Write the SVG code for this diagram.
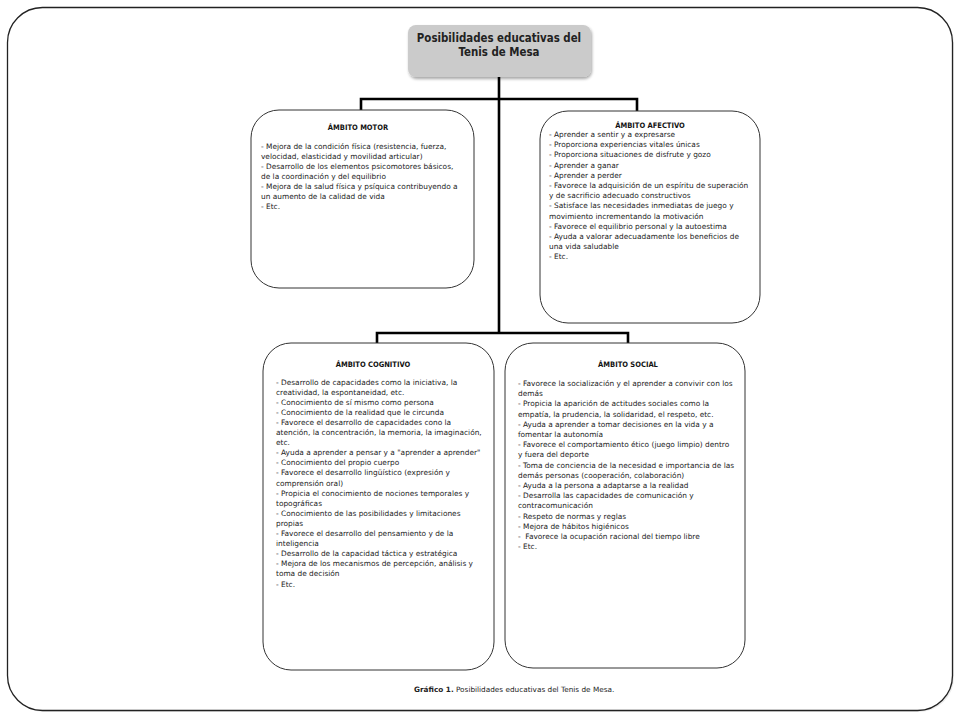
<svg xmlns="http://www.w3.org/2000/svg" width="960" height="720" viewBox="0 0 960 720">
<defs>
<filter id="sh" x="-10%" y="-10%" width="130%" height="140%">
<feGaussianBlur in="SourceAlpha" stdDeviation="1.5"/>
<feOffset dx="1" dy="2" result="b"/>
<feComponentTransfer><feFuncA type="linear" slope="0.35"/></feComponentTransfer>
<feMerge><feMergeNode/><feMergeNode in="SourceGraphic"/></feMerge>
</filter>
</defs>
<style>
.frame{fill:#ffffff;stroke:#222;stroke-width:1.3}
.box{fill:#ffffff;stroke:#333;stroke-width:1}
.title{fill:#cbcbcb;stroke:none}
.tt{font-family:"DejaVu Sans Condensed","DejaVu Sans",sans-serif;font-weight:bold;font-size:11.4px;fill:#222;text-anchor:middle}
.hd{font-family:"DejaVu Sans Condensed","DejaVu Sans",sans-serif;font-weight:bold;font-size:7.5px;fill:#111;text-anchor:middle}
.tx{font-family:"DejaVu Sans",sans-serif;font-size:7.4px;fill:#222;white-space:pre}
.cap{font-family:"DejaVu Sans",sans-serif;font-size:7.3px;fill:#222}
.con{fill:none;stroke:#000;stroke-width:2.6}
</style>
<rect x="9" y="9" width="945" height="703" rx="35" fill="#d8d8d8" opacity="0.5"/>
<rect class="frame" x="7.5" y="7.5" width="945" height="703" rx="35"/>

<g id="connectors">
<line class="con" x1="499" y1="77" x2="499" y2="334"/>
<polyline class="con" points="361,110 361,99 637,99 637,111"/>
<polyline class="con" points="377,343 377,333 628,333 628,343"/>
</g>

<g id="title">
<rect class="title" x="408" y="25" width="183" height="52" rx="8" filter="url(#sh)"/>
<text class="tt" x="499" y="42">Posibilidades educativas del</text>
<text class="tt" x="499" y="55.5">Tenis de Mesa</text>
</g>

<g id="motor">
<rect class="box" x="251" y="110" width="223" height="178" rx="28"/>
<text class="hd" x="358" y="129.5">ÁMBITO MOTOR</text>
<text class="tx" x="261" y="148.5">
<tspan x="261">- Mejora de la condición física (resistencia, fuerza,</tspan>
<tspan x="261" dy="10">velocidad, elasticidad y movilidad articular)</tspan>
<tspan x="261" dy="10">- Desarrollo de los elementos psicomotores básicos,</tspan>
<tspan x="261" dy="10">de la coordinación y del equilibrio</tspan>
<tspan x="261" dy="10">- Mejora de la salud física y psíquica contribuyendo a</tspan>
<tspan x="261" dy="10">un aumento de la calidad de vida</tspan>
<tspan x="261" dy="10">- Etc.</tspan>
</text>
</g>

<g id="afectivo">
<rect class="box" x="540" y="111" width="220" height="212" rx="28"/>
<text class="hd" x="650" y="128">ÁMBITO AFECTIVO</text>
<text class="tx" x="549" y="137">
<tspan x="549">- Aprender a sentir y a expresarse</tspan>
<tspan x="549" dy="10.2">- Proporciona experiencias vitales únicas</tspan>
<tspan x="549" dy="10.2">- Proporciona situaciones de disfrute y gozo</tspan>
<tspan x="549" dy="10.2">- Aprender a ganar</tspan>
<tspan x="549" dy="10.2">- Aprender a perder</tspan>
<tspan x="549" dy="10.2">- Favorece la adquisición de un espíritu de superación</tspan>
<tspan x="549" dy="10.2">y de sacrificio adecuado constructivos</tspan>
<tspan x="549" dy="10.2">- Satisface las necesidades inmediatas de juego y</tspan>
<tspan x="549" dy="10.2">movimiento incrementando la motivación</tspan>
<tspan x="549" dy="10.2">- Favorece el equilibrio personal y la autoestima</tspan>
<tspan x="549" dy="10.2">- Ayuda a valorar adecuadamente los beneficios de</tspan>
<tspan x="549" dy="10.2">una vida saludable</tspan>
<tspan x="549" dy="10.2">- Etc.</tspan>
</text>
</g>

<g id="cognitivo">
<rect class="box" x="263" y="343" width="231" height="327" rx="28"/>
<text class="hd" x="373" y="366.5">ÁMBITO COGNITIVO</text>
<text class="tx" x="276" y="384.5">
<tspan x="276">- Desarrollo de capacidades como la iniciativa, la</tspan>
<tspan x="276" dy="10.1">creatividad, la espontaneidad, etc.</tspan>
<tspan x="276" dy="10.1">- Conocimiento de sí mismo como persona</tspan>
<tspan x="276" dy="10.1">- Conocimiento de la realidad que le circunda</tspan>
<tspan x="276" dy="10.1">- Favorece el desarrollo de capacidades cono la</tspan>
<tspan x="276" dy="10.1">atención, la concentración, la memoria, la imaginación,</tspan>
<tspan x="276" dy="10.1">etc.</tspan>
<tspan x="276" dy="10.1">- Ayuda a aprender a pensar y a "aprender a aprender"</tspan>
<tspan x="276" dy="10.1">- Conocimiento del propio cuerpo</tspan>
<tspan x="276" dy="10.1">- Favorece el desarrollo lingüístico (expresión y</tspan>
<tspan x="276" dy="10.1">comprensión oral)</tspan>
<tspan x="276" dy="10.1">- Propicia el conocimiento de nociones temporales y</tspan>
<tspan x="276" dy="10.1">topográficas</tspan>
<tspan x="276" dy="10.1">- Conocimiento de las posibilidades y limitaciones</tspan>
<tspan x="276" dy="10.1">propias</tspan>
<tspan x="276" dy="10.1">- Favorece el desarrollo del pensamiento y de la</tspan>
<tspan x="276" dy="10.1">inteligencia</tspan>
<tspan x="276" dy="10.1">- Desarrollo de la capacidad táctica y estratégica</tspan>
<tspan x="276" dy="10.1">- Mejora de los mecanismos de percepción, análisis y</tspan>
<tspan x="276" dy="10.1">toma de decisión</tspan>
<tspan x="276" dy="10.1">- Etc.</tspan>
</text>
</g>

<g id="social">
<rect class="box" x="505" y="343" width="240" height="325" rx="28"/>
<text class="hd" x="628" y="366.5">ÁMBITO SOCIAL</text>
<text class="tx" x="518" y="386">
<tspan x="518">- Favorece la socialización y el aprender a convivir con los</tspan>
<tspan x="518" dy="10.2">demás</tspan>
<tspan x="518" dy="10.2">- Propicia la aparición de actitudes sociales como la</tspan>
<tspan x="518" dy="10.2">empatía, la prudencia, la solidaridad, el respeto, etc.</tspan>
<tspan x="518" dy="10.2">- Ayuda a aprender a tomar decisiones en la vida y a</tspan>
<tspan x="518" dy="10.2">fomentar la autonomía</tspan>
<tspan x="518" dy="10.2">- Favorece el comportamiento ético (juego limpio) dentro</tspan>
<tspan x="518" dy="10.2">y fuera del deporte</tspan>
<tspan x="518" dy="10.2">- Toma de conciencia de la necesidad e importancia de las</tspan>
<tspan x="518" dy="10.2">demás personas (cooperación, colaboración)</tspan>
<tspan x="518" dy="10.2">- Ayuda a la persona a adaptarse a la realidad</tspan>
<tspan x="518" dy="10.2">- Desarrolla las capacidades de comunicación y</tspan>
<tspan x="518" dy="10.2">contracomunicación</tspan>
<tspan x="518" dy="10.2">- Respeto de normas y reglas</tspan>
<tspan x="518" dy="10.2">- Mejora de hábitos higiénicos</tspan>
<tspan x="518" dy="10.2">-  Favorece la ocupación racional del tiempo libre</tspan>
<tspan x="518" dy="10.2">- Etc.</tspan>
</text>
</g>

<g id="caption">
<text class="cap" x="414" y="692"><tspan font-weight="bold">Gráfico 1.</tspan> Posibilidades educativas del Tenis de Mesa.</text>
</g>
</svg>
